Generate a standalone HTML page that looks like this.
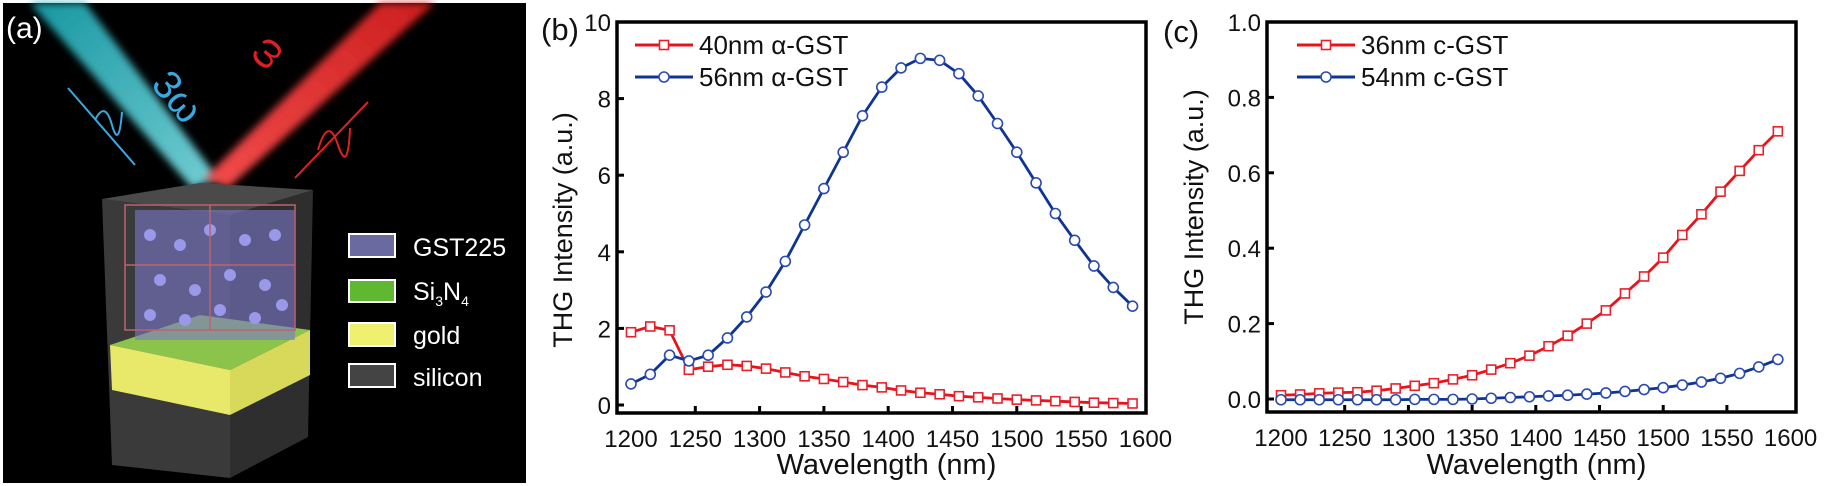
<!DOCTYPE html>
<html><head><meta charset="utf-8"><style>
html,body{margin:0;padding:0;background:#fff}
svg{display:block;font-family:"Liberation Sans",sans-serif}
</style></head><body>
<svg id="fig" width="1825" height="486" viewBox="0 0 1825 486">
<defs>
<linearGradient id="cy" x1="0" y1="0" x2="1" y2="1"><stop offset="0" stop-color="#1aa8b4"/><stop offset="1" stop-color="#80e4ea"/></linearGradient>
<linearGradient id="rd" x1="1" y1="0" x2="0" y2="1"><stop offset="0" stop-color="#d82020"/><stop offset="1" stop-color="#ff5050"/></linearGradient>
<filter id="blur"><feGaussianBlur stdDeviation="4"/></filter>
</defs>
<g>
<rect x="3" y="3" width="523" height="480" fill="#000"/>
<polygon points="30,3 85,3 218,178 192,188" fill="url(#cy)" filter="url(#blur)" opacity="0.9"/>
<polygon points="380,3 435,3 228,188 205,178" fill="url(#rd)" filter="url(#blur)" opacity="0.95"/>
<text x="150" y="85" fill="#3aa8e0" font-size="40" transform="rotate(50 150 85)">3ω</text>
<text x="265" y="72" fill="#e02020" font-size="40" transform="rotate(-50 265 72)">ω</text>
<path d="M68,88 L135,165 M95,120 Q105,100 112,125 T122,112" stroke="#3aa8e0" stroke-width="2" fill="none"/>
<path d="M295,178 L368,102 M318,150 Q328,115 338,145 T350,128" stroke="#e02020" stroke-width="2" fill="none"/>
<g>
<polygon points="102,199 230,215 230,478 112,465" fill="#3a3a3a"/>
<polygon points="230,215 313,190 308,437 230,478" fill="#2e2e2e"/>
<polygon points="102,199 200,183 313,190 230,215" fill="#4a4a4a"/>
<polygon points="110,345 230,370 310,330 200,315" fill="#8cc34a"/>
<polygon points="110,345 230,370 230,415 112,390" fill="#e8e86a"/>
<polygon points="230,370 310,330 310,375 230,415" fill="#d8d85a"/>
<rect x="135" y="210" width="160" height="130" fill="#7a78c8" opacity="0.6"/>
<g fill="#9a98e8">
<circle cx="150" cy="235" r="6"/><circle cx="180" cy="245" r="6"/><circle cx="210" cy="230" r="6"/><circle cx="245" cy="240" r="6"/><circle cx="275" cy="235" r="6"/>
<circle cx="160" cy="280" r="6"/><circle cx="195" cy="290" r="6"/><circle cx="230" cy="275" r="6"/><circle cx="265" cy="285" r="6"/>
<circle cx="150" cy="315" r="6"/><circle cx="185" cy="320" r="6"/><circle cx="220" cy="310" r="6"/><circle cx="255" cy="318" r="6"/><circle cx="282" cy="305" r="6"/>
</g>
<g stroke="#c06070" stroke-width="1.5" fill="none">
<rect x="125" y="205" width="170" height="125"/><line x1="125" y1="265" x2="295" y2="265"/><line x1="210" y1="205" x2="210" y2="330"/>
</g>
</g>
<g>
<rect x="349" y="234" width="46" height="23" fill="#6a6aa0" stroke="#fff" stroke-width="2"/>
<rect x="349" y="280" width="46" height="22" fill="#5fb830" stroke="#fff" stroke-width="2"/>
<rect x="349" y="323" width="46" height="23" fill="#f0f070" stroke="#fff" stroke-width="2"/>
<rect x="349" y="364" width="46" height="23" fill="#444" stroke="#fff" stroke-width="2"/>
<text x="413" y="256" fill="#fff" font-size="25">GST225</text>
<text x="413" y="300" fill="#fff" font-size="25">Si<tspan font-size="14" dy="6">3</tspan><tspan dy="-6">N</tspan><tspan font-size="14" dy="6">4</tspan></text>
<text x="413" y="344" fill="#fff" font-size="25">gold</text>
<text x="413" y="386" fill="#fff" font-size="25">silicon</text>
</g>
<text x="6" y="38" fill="#fff" font-size="30">(a)</text>
</g>
<g id="pb"></g>
<g id="pc"></g>
</svg>
<script>
const wavelengths=[1200,1215,1230,1245,1260,1275,1290,1305,1320,1335,1350,1365,1380,1395,1410,1425,1440,1455,1470,1485,1500,1515,1530,1545,1560,1575,1590];
const b40nm=[1.9,2.05,1.95,0.92,1.0,1.05,1.02,0.95,0.85,0.75,0.68,0.6,0.52,0.46,0.38,0.32,0.28,0.23,0.2,0.17,0.14,0.12,0.1,0.08,0.06,0.05,0.04];
const b56nm=[0.55,0.8,1.3,1.15,1.3,1.75,2.3,2.95,3.75,4.7,5.65,6.6,7.55,8.3,8.8,9.05,9.0,8.65,8.07,7.35,6.6,5.8,5.0,4.3,3.63,3.07,2.58];
const c36nm=[0.01,0.012,0.015,0.017,0.018,0.022,0.028,0.035,0.042,0.052,0.063,0.078,0.095,0.115,0.14,0.168,0.2,0.235,0.28,0.325,0.375,0.435,0.49,0.55,0.605,0.66,0.71];
const c54nm=[-0.002,-0.002,-0.002,-0.002,-0.002,-0.002,-0.002,-0.001,-0.001,-0.001,0,0.002,0.004,0.006,0.008,0.01,0.013,0.016,0.02,0.025,0.03,0.037,0.045,0.055,0.068,0.085,0.105];
const xTicks=[1200,1250,1300,1350,1400,1450,1500,1550,1600];
const bYTicks=[0,2,4,6,8,10];
const cYTicks=[0.0,0.2,0.4,0.6,0.8,1.0];
const cYLabels=["0.0","0.2","0.4","0.6","0.8","1.0"];
const NS="http://www.w3.org/2000/svg";
function mk(p,t,a){const e=document.createElementNS(NS,t);for(const k in a)e.setAttribute(k,a[k]);p.appendChild(e);return e;}
function panel(g,cfg){
 const X=v=>cfg.x0+(v-1200)*cfg.kx, Y=v=>cfg.y0-v*cfg.ky;
 const ax=mk(g,'rect',{x:cfg.L,y:cfg.T,width:cfg.R-cfg.L,height:cfg.B-cfg.T,fill:'none',stroke:'#000','stroke-width':3.5});
 
 
 xTicks.forEach(t=>{
  const x=X(t);
  if(t>1200&&t<1600){const tk=mk(g,'line',{x1:x,x2:x,y1:cfg.B,y2:cfg.B-7,stroke:'#000','stroke-width':3});
   }
  const tx=mk(g,'text',{x:x,y:cfg.B+34,'font-size':cfg.fs,'text-anchor':'middle',fill:'#111'});tx.textContent=t;
  
  
 });
 cfg.yt.forEach((t,i)=>{
  const y=Y(t);
  const tk=mk(g,'line',{x1:cfg.L,x2:cfg.L+7,y1:y,y2:y,stroke:'#000','stroke-width':3});
  
  const tx=mk(g,'text',{x:cfg.L-6,y:y+9,'font-size':cfg.fs,'text-anchor':'end',fill:'#111'});tx.textContent=cfg.yl[i];
  
  
 });
 const yt=mk(g,'text',{x:0,y:0,'font-size':27,'text-anchor':'middle',fill:'#111',transform:`translate(${cfg.ytx},${cfg.yty}) rotate(-90)`});yt.textContent='THG Intensity (a.u.)';
 
 
 const xt=mk(g,'text',{x:(cfg.L+cfg.R)/2+5,y:474,'font-size':29,'text-anchor':'middle',fill:'#111'});xt.textContent='Wavelength (nm)';
 
 
 const pl=mk(g,'text',{x:cfg.plx,y:cfg.ply,'font-size':31,fill:'#111'});pl.textContent=cfg.plabel;
 
 
 cfg.series.forEach((s,si)=>{
  const sg=mk(g,'g',{});
  
  
  mk(sg,'polyline',{points:wavelengths.map((w,i)=>X(w)+','+Y(s.v[i])).join(' '),fill:'none',stroke:s.lc,'stroke-width':2.8});
  wavelengths.forEach((w,i)=>{drawMarker(sg,s,X(w),Y(s.v[i]));});
  const ly=cfg.legY[si];
  const lg=mk(g,'g',{});
  
  
  mk(lg,'line',{x1:cfg.legX,x2:cfg.legX+58,y1:ly,y2:ly,stroke:s.lc,'stroke-width':3});
  drawMarker(lg,s,cfg.legX+29,ly);
  const lt=mk(lg,'text',{x:cfg.legX+64,y:ly+9,'font-size':26,fill:'#111'});lt.textContent=s.label;
 });
}
function drawMarker(p,s,x,y){
 if(s.m==='sq') mk(p,'rect',{x:x-4.5,y:y-4.5,width:9,height:9,fill:'#fff',stroke:s.mc,'stroke-width':1.6});
 else mk(p,'circle',{cx:x,cy:y,r:5,fill:'#fff',stroke:s.mc,'stroke-width':1.6});
}
panel(document.getElementById('pb'),{id:'panel-b',L:617,R:1146,T:22,B:413,x0:631,kx:64.3/50,y0:405,ky:38.3,fs:24,
 yt:bYTicks,yl:bYTicks.map(String),ytx:572,yty:230,plabel:'(b)',plx:541,ply:40,legX:635,legY:[45,77],
 series:[{name:'series-40nm-a-gst',label:'40nm α-GST',v:b40nm,lc:'#e8141c',mc:'#e8202a',m:'sq'},
         {name:'series-56nm-a-gst',label:'56nm α-GST',v:b56nm,lc:'#0f3590',mc:'#2a4ab0',m:'c'}]});
panel(document.getElementById('pc'),{id:'panel-c',L:1267,R:1796,T:22,B:412,x0:1281,kx:63.7/50,y0:399,ky:377,fs:24,
 yt:cYTicks,yl:cYLabels,ytx:1203,yty:207,plabel:'(c)',plx:1163,ply:42,legX:1297,legY:[45,77],
 series:[{name:'series-36nm-c-gst',label:'36nm c-GST',v:c36nm,lc:'#e8141c',mc:'#e8202a',m:'sq'},
         {name:'series-54nm-c-gst',label:'54nm c-GST',v:c54nm,lc:'#0f3590',mc:'#2a4ab0',m:'c'}]});
</script>
</body></html>
